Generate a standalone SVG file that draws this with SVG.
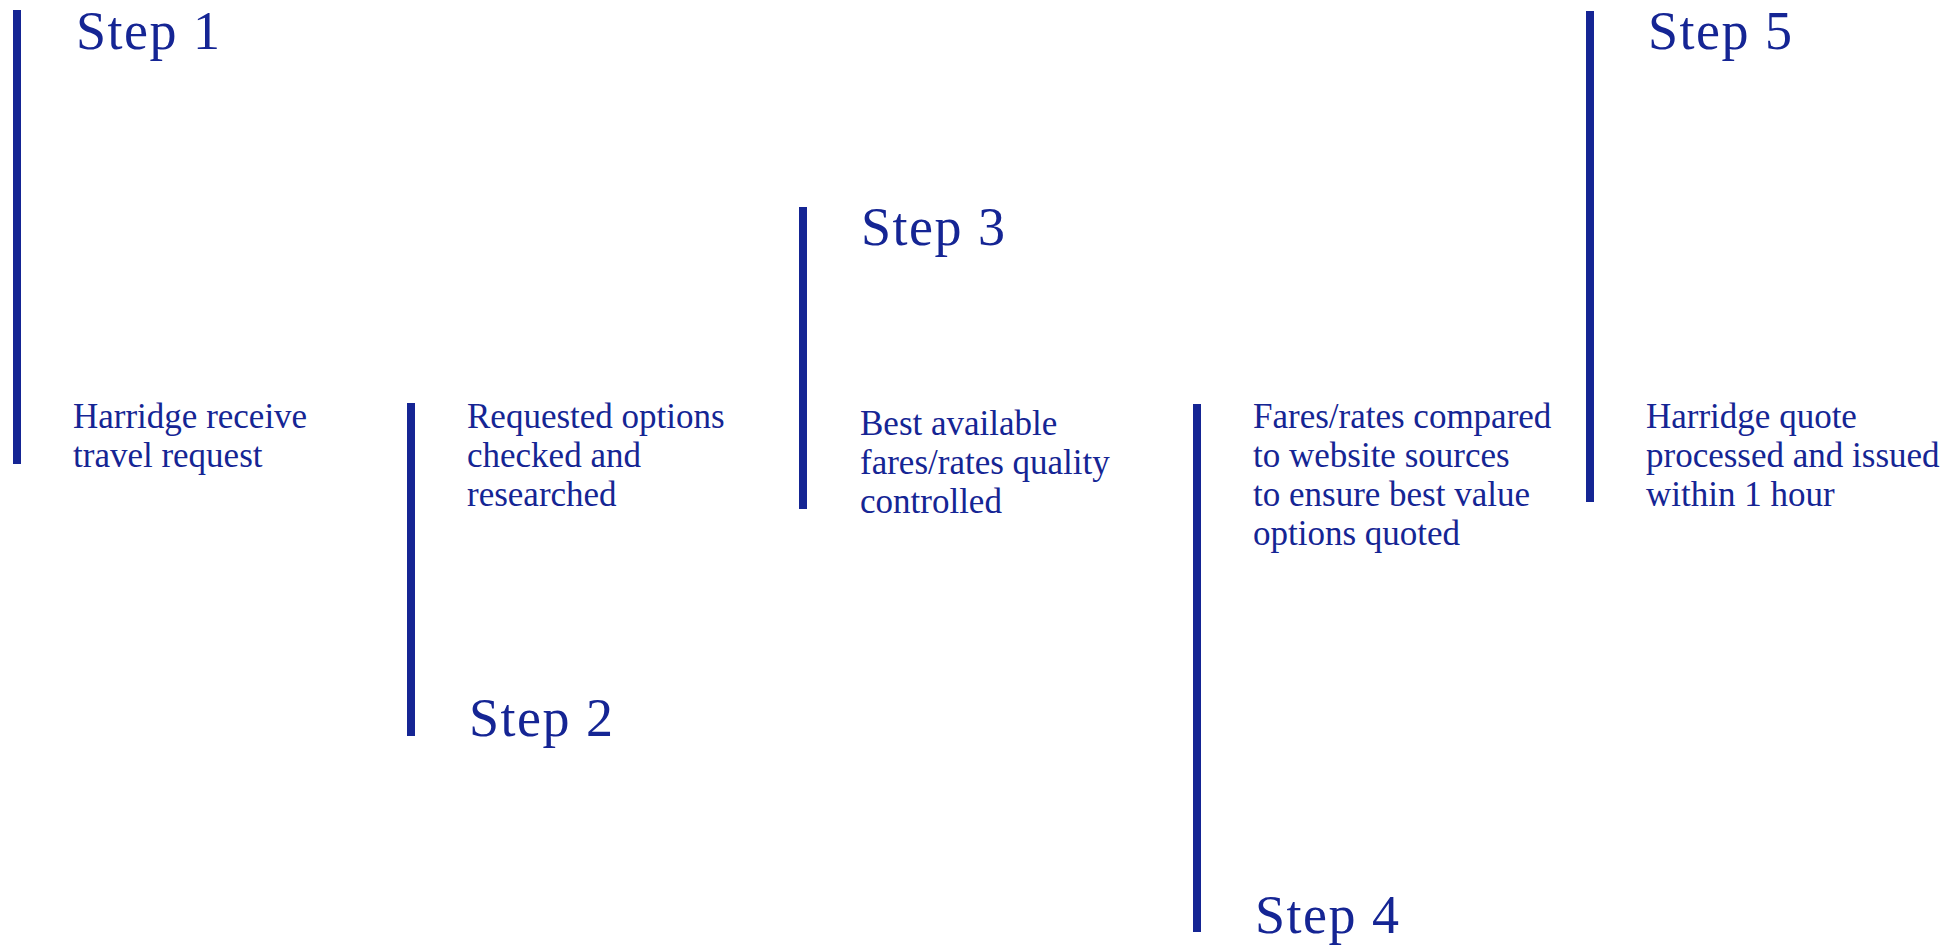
<svg xmlns="http://www.w3.org/2000/svg" width="1955" height="950" viewBox="0 0 1955 950">
<style>
.bar{fill:#152594}
.h{font-family:"Liberation Serif","Times New Roman",serif;font-size:54px;letter-spacing:1.5px;fill:#152594}
.b{font-family:"Liberation Serif","Times New Roman",serif;font-size:35px;fill:#152594}
</style>
<rect width="1955" height="950" fill="#ffffff"/>
<g id="connectors"></g>
<g id="step1">
<rect class="bar" x="13" y="10" width="8" height="454"/>
<text class="h" x="76" y="49">Step 1</text>
<text class="b" x="73" y="428">Harridge receive</text>
<text class="b" x="73" y="467">travel request</text>
</g>
<g id="step2">
<rect class="bar" x="407" y="403" width="8" height="333"/>
<text class="b" x="467" y="428">Requested options</text>
<text class="b" x="467" y="467">checked and</text>
<text class="b" x="467" y="506">researched</text>
<text class="h" x="469" y="736">Step 2</text>
</g>
<g id="step3">
<rect class="bar" x="799" y="207" width="8" height="302"/>
<text class="h" x="861" y="245">Step 3</text>
<text class="b" x="860" y="435">Best available</text>
<text class="b" x="860" y="474">fares/rates quality</text>
<text class="b" x="860" y="513">controlled</text>
</g>
<g id="step4">
<rect class="bar" x="1193" y="404" width="8" height="528"/>
<text class="b" x="1253" y="428">Fares/rates compared</text>
<text class="b" x="1253" y="467">to website sources</text>
<text class="b" x="1253" y="506">to ensure best value</text>
<text class="b" x="1253" y="545">options quoted</text>
<text class="h" x="1255" y="933">Step 4</text>
</g>
<g id="step5">
<rect class="bar" x="1586" y="11" width="8" height="491"/>
<text class="h" x="1648" y="49">Step 5</text>
<text class="b" x="1646" y="428">Harridge quote</text>
<text class="b" x="1646" y="467">processed and issued</text>
<text class="b" x="1646" y="506">within 1 hour</text>
</g>
</svg>
